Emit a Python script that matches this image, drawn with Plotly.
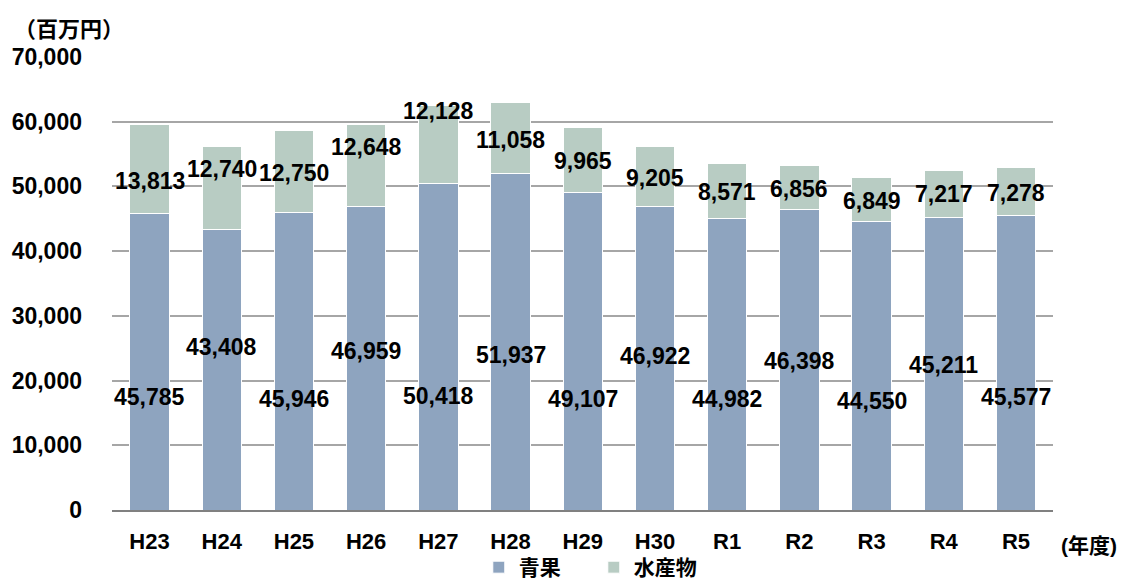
import plotly.graph_objects as go

years = ["H23", "H24", "H25", "H26", "H27", "H28", "H29", "H30", "R1", "R2", "R3", "R4", "R5"]
seika = [45785, 43408, 45946, 46959, 50418, 51937, 49107, 46922, 44982, 46398, 44550, 45211, 45577]
suisan = [13813, 12740, 12750, 12648, 12128, 11058, 9965, 9205, 8571, 6856, 6849, 7217, 7278]

# where the data labels sit (axis units), as placed by hand in the original
seika_label_y = [17500, 25200, 17200, 24600, 17600, 24000, 17200, 23800, 17200, 23100, 16900, 22400, 17500]
suisan_label_y = [50900, 52700, 52100, 56100, 61600, 57200, 54000, 51300, 49200, 49600, 47800, 48800, 49000]

font_family = "Liberation Sans, Arial, Noto Sans CJK JP"

fig = go.Figure()

fig.add_trace(go.Bar(
    x = years,
    y = seika,
    name = "青果",
    marker = dict(color = "#8EA4BF", line = dict(color = "white", width = 1))
))

fig.add_trace(go.Bar(
    x = years,
    y = suisan,
    name = "水産物",
    marker = dict(color = "#B8CCC3", line = dict(color = "white", width = 1))
))

annotations = []
for i, yr in enumerate(years):
    annotations.append(dict(
        x = yr, y = seika_label_y[i], text = f"{seika[i]:,}", showarrow = False,
        font = dict(size = 23, color = "black", family = font_family, weight = "bold")
    ))
    annotations.append(dict(
        x = yr, y = suisan_label_y[i], text = f"{suisan[i]:,}", showarrow = False,
        font = dict(size = 23, color = "black", family = font_family, weight = "bold")
    ))

annotations.append(dict(
    xref = "paper", yref = "paper", x = -0.106, y = 1.06, xanchor = "left", yanchor = "middle",
    text = "（百万円）", showarrow = False,
    font = dict(size = 22, color = "black", family = font_family, weight = "bold")
))
annotations.append(dict(
    xref = "paper", yref = "paper", x = 1.006, y = -0.078, xanchor = "left", yanchor = "middle",
    text = "(年度)", showarrow = False,
    font = dict(size = 21, color = "black", family = font_family, weight = "bold")
))

# page body has an 8px margin, so the figure is sized a little smaller
fig.update_layout(
    barmode = "stack",
    bargap = 0.455,
    width = 1119,
    height = 573,
    margin = dict(l = 104, r = 74, t = 49, b = 71, autoexpand = False),
    plot_bgcolor = "white",
    paper_bgcolor = "white",
    font = dict(family = font_family, color = "black", weight = "bold"),
    xaxis = dict(
        showline = True,
        linecolor = "#808080",
        linewidth = 1.5,
        automargin = False,
        tickfont = dict(size = 22, family = font_family, weight = "bold"),
        ticklabelstandoff = 11
    ),
    yaxis = dict(
        range = [0, 70000],
        dtick = 10000,
        tickformat = ",",
        showgrid = True,
        gridcolor = "#A6A6A6",
        gridwidth = 1.5,
        zeroline = False,
        automargin = False,
        tickfont = dict(size = 23, family = font_family, weight = "bold"),
        ticklabelstandoff = 29
    ),
    legend = dict(
        orientation = "h",
        traceorder = "normal",
        x = 0.512,
        y = -0.127,
        xanchor = "center",
        yanchor = "middle",
        bgcolor = "rgba(0,0,0,0)",
        font = dict(size = 21, family = font_family, weight = "bold"),
        itemwidth = 30,
        entrywidth = 70,
        tracegroupgap = 0
    ),
    annotations = annotations,
    showlegend = True
)

fig.write_html("out.html")
